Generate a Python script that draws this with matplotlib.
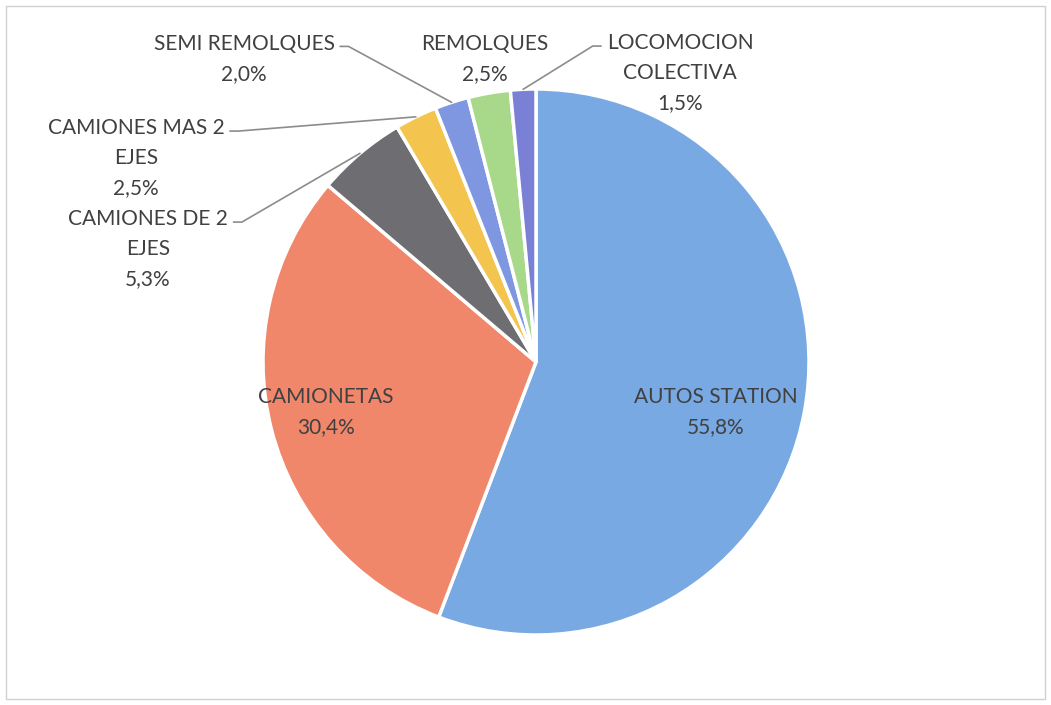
import numpy as np
import matplotlib.pyplot as plt
from matplotlib.patches import Rectangle

labels = ["AUTOS STATION", "CAMIONETAS", "CAMIONES DE 2\nEJES", "CAMIONES MAS 2\nEJES",
          "SEMI REMOLQUES", "REMOLQUES", "LOCOMOCION\nCOLECTIVA"]
values = [55.8, 30.4, 5.3, 2.5, 2.0, 2.5, 1.5]
colors = ["#78a9e3", "#f0876b", "#6e6e72", "#f3c54e", "#7f96e0", "#a8d88a", "#7a80d6"]

W, H = 1051, 705
fig = plt.figure(figsize=(W / 100, H / 100), dpi=100)
ax = fig.add_axes([0, 0, 1, 1])

cx, cy, r = 536, H - 362, 273
wedges, _ = ax.pie(values, colors=colors, startangle=90, counterclock=False,
                   center=(cx, cy), radius=r, frame=True,
                   wedgeprops=dict(edgecolor="white", linewidth=2.5))
ax.set_xlim(0, W)
ax.set_ylim(0, H)
ax.set_aspect("equal")
ax.axis("off")

ax.add_patch(Rectangle((6, 6), W - 12, H - 12, fill=False, edgecolor="#d0d0d0", linewidth=1))

font = dict(family=["Lato", "DejaVu Sans"], fontsize=15, color="#404040", linespacing=1.65)

# label layout: (x, y in pixels from top, leader direction)
layout = [
    (716, 412, None),
    (326, 412, None),
    (148, 249, 0),
    (136, 158, 0),
    (244, 59, 0),
    (485, 59, None),
    (680, 73, 180),
]

for w, lab, val, (tx, ty, ang) in zip(wedges, labels, values, layout):
    txt = lab + "\n" + f"{val:.1f}".replace(".", ",") + "%"
    if ang is None:
        ax.text(tx, H - ty, txt, ha="center", va="center", **font)
        continue
    mid = np.deg2rad((w.theta1 + w.theta2) / 2)
    px, py = cx + r * np.cos(mid), cy + r * np.sin(mid)
    nlines = txt.count("\n") + 1
    relx = 1.0 if ang == 0 else 0.0
    rely = 1 - 0.5 / nlines
    ax.annotate(txt, xy=(px, py), xytext=(tx, H - ty), ha="center", va="center",
                arrowprops=dict(arrowstyle="-", color="#8c8c8c", lw=1.2, shrinkA=2, shrinkB=0,
                                relpos=(relx, rely),
                                connectionstyle=f"arc,angleA={ang},armA=14,angleB=0,armB=0,rad=0"),
                **font)

fig.savefig("out.png", dpi=100)
